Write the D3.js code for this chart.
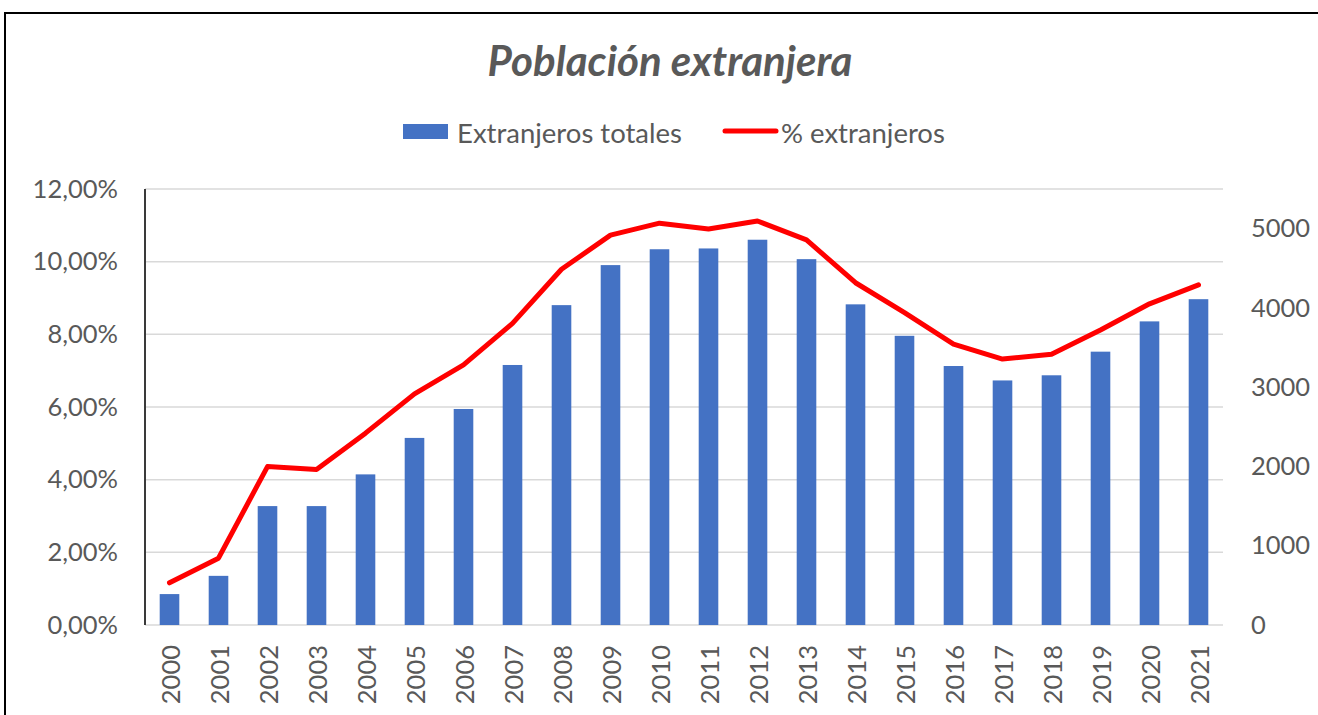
<!DOCTYPE html>
<html>
<head>
<meta charset="utf-8">
<script src="https://cdn.jsdelivr.net/npm/d3@7/dist/d3.min.js"></script>
<style>
  html, body { margin: 0; padding: 0; background: #fff; }
  svg { display: block; }
  text { font-family: Lato, "Open Sans", sans-serif; fill: #595959; }
</style>
</head>
<body>
<svg id="chart" width="1318" height="715"></svg>
<script>
const years = ["2000","2001","2002","2003","2004","2005","2006","2007","2008","2009","2010","2011","2012","2013","2014","2015","2016","2017","2018","2019","2020","2021"];
const totals = [390, 620, 1500, 1500, 1900, 2360, 2725, 3280, 4035, 4540, 4740, 4750, 4860, 4615, 4045, 3648, 3267, 3085, 3150, 3448, 3830, 4110];
const pct = [0.0116, 0.0184, 0.0436, 0.0428, 0.0528, 0.0636, 0.0716, 0.0830, 0.0979, 0.1073, 0.1106, 0.1090, 0.1112, 0.1060, 0.0942, 0.0860, 0.0773, 0.0732, 0.0745, 0.0812, 0.0884, 0.0936];
const leftTicks = [0, 0.02, 0.04, 0.06, 0.08, 0.10, 0.12];
const rightTicks = [0, 1000, 2000, 3000, 4000, 5000];
const title = "Población extranjera";
const seriesNames = ["Extranjeros totales", "% extranjeros"];

const svg = d3.select("#chart");
const plot = { left: 145, right: 1223, top: 189, bottom: 625 };
const gray = "#595959";
const tickSize = "25.5px";

// frame
svg.append("rect").attr("x", 5).attr("y", 13).attr("width", 1330).attr("height", 720)
  .attr("fill", "none").attr("stroke", "#000").attr("stroke-width", 2);

const x = d3.scaleBand().domain(years).range([plot.left, plot.right]).paddingInner(0.6).paddingOuter(0.3);
const yL = d3.scaleLinear().domain([0, 0.12]).range([plot.bottom, plot.top]);
const yR = d3.scaleLinear().domain([0, 5500]).range([plot.bottom, plot.top]);

const loc = d3.formatLocale({ decimal: ",", thousands: ".", grouping: [3], currency: ["", "€"] });
const fmtPct = loc.format(".2%");

// gridlines
svg.append("g").selectAll("line").data(leftTicks).join("line")
  .attr("x1", plot.left).attr("x2", plot.right)
  .attr("y1", d => yL(d)).attr("y2", d => yL(d))
  .attr("stroke", "#D9D9D9").attr("stroke-width", 1.5);

// bars
svg.append("g").selectAll("rect").data(years).join("rect")
  .attr("x", d => x(d)).attr("width", x.bandwidth())
  .attr("y", (d, i) => yR(totals[i])).attr("height", (d, i) => yR(0) - yR(totals[i]))
  .attr("fill", "#4472C4");

// left axis line
svg.append("line").attr("x1", plot.left).attr("x2", plot.left).attr("y1", plot.top).attr("y2", plot.bottom)
  .attr("stroke", "#3a3a3a").attr("stroke-width", 2);

// line series
const line = d3.line().x((d, i) => x(years[i]) + x.bandwidth() / 2).y(d => yL(d));
svg.append("path").datum(pct).attr("d", line)
  .attr("fill", "none").attr("stroke", "#FF0000").attr("stroke-width", 5)
  .attr("stroke-linejoin", "round").attr("stroke-linecap", "round");

// left axis
const gL = svg.append("g").attr("transform", `translate(${plot.left - 27},0)`)
  .call(d3.axisLeft(yL).tickValues(leftTicks).tickFormat(fmtPct).tickSize(0).tickPadding(0));
gL.select(".domain").remove();
gL.selectAll("text").style("font-family", "Lato").style("font-size", tickSize).attr("fill", gray);

// right axis
const gR = svg.append("g").attr("transform", `translate(${plot.right + 28},0)`)
  .call(d3.axisRight(yR).tickValues(rightTicks).tickFormat(d3.format("d")).tickSize(0).tickPadding(0));
gR.select(".domain").remove();
gR.selectAll("text").style("font-family", "Lato").style("font-size", tickSize).attr("fill", gray);

// bottom axis
const gB = svg.append("g").attr("transform", `translate(0,${plot.bottom})`)
  .call(d3.axisBottom(x).tickSize(0).tickPadding(0));
gB.select(".domain").remove();
gB.selectAll("text")
  .style("font-family", "Lato").style("font-size", tickSize).attr("fill", gray)
  .attr("text-anchor", "end").attr("dy", null)
  .attr("transform", "translate(0,20) rotate(-90)")
  .attr("x", 0).attr("y", 0).attr("dominant-baseline", "central");

// title
svg.append("text").attr("x", 670).attr("y", 76).attr("text-anchor", "middle")
  .style("font-family", "Lato").style("font-weight", "bold").style("font-style", "italic")
  .style("font-size", "42px").attr("fill", gray).text(title);

// legend
const lg = svg.append("g");
lg.append("rect").attr("x", 403).attr("y", 124).attr("width", 45).attr("height", 15).attr("fill", "#4472C4");
lg.append("text").attr("x", 457).attr("y", 132).attr("dominant-baseline", "central")
  .style("font-size", "27.5px").attr("fill", gray).text(seriesNames[0]);
lg.append("line").attr("x1", 725).attr("x2", 776).attr("y1", 131).attr("y2", 131)
  .attr("stroke", "#FF0000").attr("stroke-width", 5).attr("stroke-linecap", "round");
lg.append("text").attr("x", 781).attr("y", 132).attr("dominant-baseline", "central")
  .style("font-size", "27.5px").attr("fill", gray).text(seriesNames[1]);
</script>
</body>
</html>
